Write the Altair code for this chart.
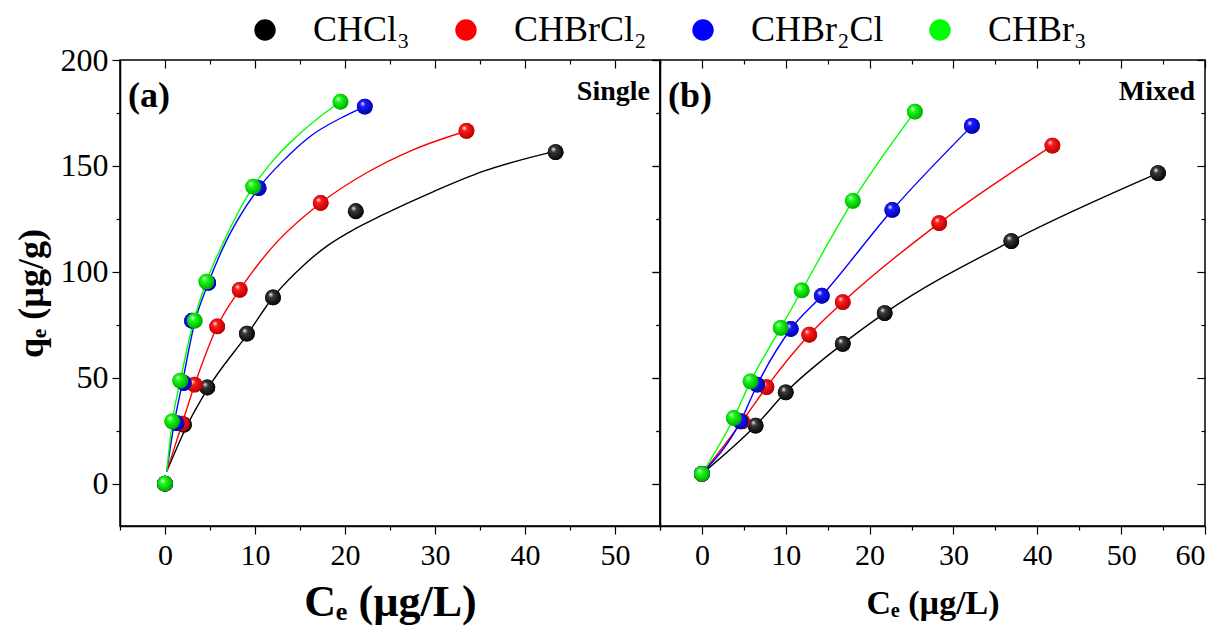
import altair as alt
import pandas as pd

SERIES = ["CHCl₃", "CHBrCl₂", "CHBr₂Cl", "CHBr₃"]
COLORS = ["#000000", "#ff0000", "#0000ff", "#00ff00"]
DARK = ["#000000", "#b00000", "#0000a0", "#00a000"]
MID = ["#3a3a3a", "#ff1a1a", "#1a1aff", "#1aff1a"]

# ---- Panel (a): Single ----
a_ce_chcl3 = [0, 2.1, 4.7, 9.1, 12.0, 21.2, 43.4]
a_qe_chcl3 = [0, 27.8, 45.4, 70.8, 87.9, 128.6, 156.5]
a_ce_chbrcl2 = [0, 1.9, 3.3, 5.8, 8.3, 17.3, 33.5]
a_qe_chbrcl2 = [0, 28.3, 46.7, 74.2, 91.5, 132.5, 166.5]
a_ce_chbr2cl = [0, 1.3, 2.1, 3.0, 4.8, 10.4, 22.2]
a_qe_chbr2cl = [0, 28.6, 47.5, 76.9, 94.8, 139.5, 178.0]
a_ce_chbr3 = [0, 0.8, 1.7, 3.3, 4.6, 9.8, 19.5]
a_qe_chbr3 = [0, 29.4, 48.6, 76.9, 95.4, 140.2, 180.3]

# fitted curves
fa_ce_chcl3 = [0.2, 2.4, 4.7, 9.2, 12.0, 15.5, 18.1, 21.2, 24.0, 29.9, 35.4, 43.4]
fa_qe_chcl3 = [5.8, 27.0, 44.5, 70.8, 88.0, 103.5, 112.5, 120.5, 126.5, 138.0, 147.5, 157.0]
fa_ce_chbrcl2 = [0.2, 1.9, 3.3, 5.8, 8.3, 12.0, 17.3, 22.5, 27.5, 33.5]
fa_qe_chbrcl2 = [5.8, 28.3, 46.7, 74.2, 91.5, 112.0, 132.5, 147.0, 157.5, 166.5]
fa_ce_chbr2cl = [0.2, 1.0, 1.9, 3.3, 4.8, 6.3, 10.4, 13.5, 16.3, 19.5, 22.2]
fa_qe_chbr2cl = [5.8, 28.0, 47.0, 76.0, 94.5, 110.0, 139.5, 154.0, 164.5, 172.5, 178.0]
fa_ce_chbr3 = [0.2, 0.8, 1.7, 3.2, 4.6, 6.5, 9.8, 12.0, 14.4, 17.0, 19.5]
fa_qe_chbr3 = [5.8, 29.0, 48.6, 76.9, 95.4, 114.0, 140.2, 152.5, 163.0, 172.5, 180.3]

# ---- Panel (b): Mixed ----
b_ce_chcl3 = [0, 6.4, 10.0, 16.8, 21.8, 36.9, 54.4]
b_qe_chcl3 = [4.6, 27.4, 43.1, 66.0, 80.5, 114.5, 146.6]
b_ce_chbrcl2 = [0, 4.8, 7.7, 12.8, 16.8, 28.3, 41.8]
b_qe_chbrcl2 = [4.6, 29.4, 45.6, 70.3, 85.7, 123.0, 159.6]
b_ce_chbr2cl = [0, 4.6, 6.6, 10.6, 14.3, 22.7, 32.2]
b_qe_chbr2cl = [4.6, 29.4, 46.7, 73.0, 88.7, 129.2, 168.9]
b_ce_chbr3 = [0, 3.8, 5.8, 9.4, 11.9, 18.0, 25.4]
b_qe_chbr3 = [4.6, 31.0, 48.3, 73.5, 91.2, 133.5, 175.6]


def make_df(pairs):
    rows = []
    for name, (xs, ys) in zip(SERIES, pairs):
        for i, (xv, yv) in enumerate(zip(xs, ys)):
            rows.append({"series": name, "ce": xv, "qe": yv, "order": i})
    return pd.DataFrame(rows)


a_pts = make_df([(a_ce_chcl3, a_qe_chcl3), (a_ce_chbrcl2, a_qe_chbrcl2),
                 (a_ce_chbr2cl, a_qe_chbr2cl), (a_ce_chbr3, a_qe_chbr3)])
a_fit = make_df([(fa_ce_chcl3, fa_qe_chcl3), (fa_ce_chbrcl2, fa_qe_chbrcl2),
                 (fa_ce_chbr2cl, fa_qe_chbr2cl), (fa_ce_chbr3, fa_qe_chbr3)])
b_pts = make_df([(b_ce_chcl3, b_qe_chcl3), (b_ce_chbrcl2, b_qe_chbrcl2),
                 (b_ce_chbr2cl, b_qe_chbr2cl), (b_ce_chbr3, b_qe_chbr3)])
b_fit = b_pts.copy()

FONT = "Liberation Serif"
PANEL_H = 466


def grad(mid, dark):
    return {
        "gradient": "radial",
        "x1": 0.35, "y1": 0.3, "r1": 0.0,
        "x2": 0.45, "y2": 0.45, "r2": 0.6,
        "stops": [
            {"offset": 0.0, "color": "#ffffff"},
            {"offset": 0.28, "color": mid},
            {"offset": 1.0, "color": dark},
        ],
    }


def panel(pts, fit, xdomain, xmax_label, width, tag, label, xtitle_size, show_ylabels):
    xscale = alt.Scale(domain=xdomain, nice=False, zero=False)
    yscale = alt.Scale(domain=[-20, 200], nice=False, zero=False)
    xvals = list(range(xdomain[0], xdomain[1] + 1, 5))
    yvals = list(range(0, 201, 25))
    tick_cond = {"condition": {"test": "datum.value % 10 === 0", "value": 8}, "value": 4}
    x = alt.X(
        "ce:Q",
        scale=xscale,
        axis=alt.Axis(
            values=xvals,
            labelExpr=f"datum.value % 10 === 0 && datum.value >= 0 && datum.value <= {xmax_label} ? datum.label : ''",
            tickSize=tick_cond,
            title="Cₑ (µg/L)",
            titleFontSize=xtitle_size,
            titleFont=FONT,
            titleFontWeight="bold",
            titlePadding=10 if xtitle_size > 38 else 16,
            labelFontSize=30,
            labelFont=FONT,
            labelPadding=6,
        ),
    )
    ytick_cond = {"condition": {"test": "datum.value % 50 === 0", "value": 8}, "value": 4}
    y = alt.Y(
        "qe:Q",
        scale=yscale,
        axis=alt.Axis(
            values=yvals,
            labelExpr="datum.value % 50 === 0 ? datum.label : ''" if show_ylabels else "''",
            tickSize=ytick_cond,
            title="qₑ (µg/g)" if show_ylabels else None,
            titleFontSize=36,
            titleFont=FONT,
            titleFontWeight="bold",
            titlePadding=10,
            labelFontSize=32,
            labelFont=FONT,
            labelPadding=4,
        ),
    )
    color = alt.Color(
        "series:N",
        scale=alt.Scale(domain=SERIES, range=COLORS),
        sort=SERIES,
        legend=alt.Legend(
            orient="none",
            legendX=127,
            legendY=-48,
            direction="horizontal",
            columns=4,
            title=None,
            symbolType="circle",
            symbolSize=460,
            symbolStrokeWidth=0,
            labelFont=FONT,
            labelFontSize=36,
            labelOffset=30,
            columnPadding=38,
            symbolOpacity=1,
        ),
    )
    lines = alt.Chart(fit).mark_line(strokeWidth=1.4, interpolate="monotone").encode(
        x=x, y=y, color=color, order="order:Q"
    )
    base = alt.Chart(pts).mark_circle(size=250, opacity=1).encode(x=x, y=y, color=color)
    overlays = [
        alt.Chart(pts)
        .transform_filter(alt.datum.series == s)
        .mark_circle(size=250, opacity=1, fill=grad(m, d), strokeWidth=0)
        .encode(x=x, y=y)
        for s, m, d in zip(SERIES, MID, DARK)
    ]
    tag_text = alt.Chart(pd.DataFrame({"t": [tag]})).mark_text(
        font=FONT, fontSize=36, fontWeight="bold", align="left", baseline="middle", color="black"
    ).encode(text="t:N", x=alt.value(8), y=alt.value(36))
    lab_text = alt.Chart(pd.DataFrame({"t": [label]})).mark_text(
        font=FONT, fontSize=28, fontWeight="bold", align="right", baseline="middle", color="black"
    ).encode(text="t:N", x=alt.value(width - 10), y=alt.value(32))
    inner = alt.layer(lines, base, *overlays, tag_text, lab_text)

    # mirror axes (top / right) with inward ticks, no labels
    in_x = {"condition": {"test": "datum.value % 10 === 0", "value": -8}, "value": -4}
    in_y = {"condition": {"test": "datum.value % 50 === 0", "value": -8}, "value": -4}
    mirror = alt.Chart(pts).mark_point(opacity=0).encode(
        x=alt.X("ce:Q", scale=xscale,
                axis=alt.Axis(orient="top", values=xvals, labels=False, title=None,
                              tickSize=in_x, domain=False)),
        y=alt.Y("qe:Q", scale=yscale,
                axis=alt.Axis(orient="right", values=yvals, labels=False, title=None,
                              tickSize=in_y, domain=False)),
    )
    return (
        alt.layer(inner, mirror)
        .resolve_axis(x="independent", y="independent")
        .properties(width=width, height=PANEL_H)
    )


pa = panel(a_pts, a_fit, [-5, 55], 50, 540, "(a)", "Single", 44, True)
pb = panel(b_pts, b_fit, [-5, 60], 60, 545, "(b)", "Mixed", 34, False)

chart = (
    alt.hconcat(pa, pb, spacing=0, bounds="flush")
    .resolve_scale(color="shared")
    .properties(padding={"left": 4, "top": 4, "right": 10, "bottom": 5})
    .configure_view(stroke="black", strokeWidth=1.5)
    .configure_axis(grid=False, domainColor="black", tickColor="black", labelColor="black",
                    titleColor="black", domainWidth=1.5, tickWidth=1.2)
)

chart.save("out.html", embed_options={"renderer": "svg", "actions": False})
